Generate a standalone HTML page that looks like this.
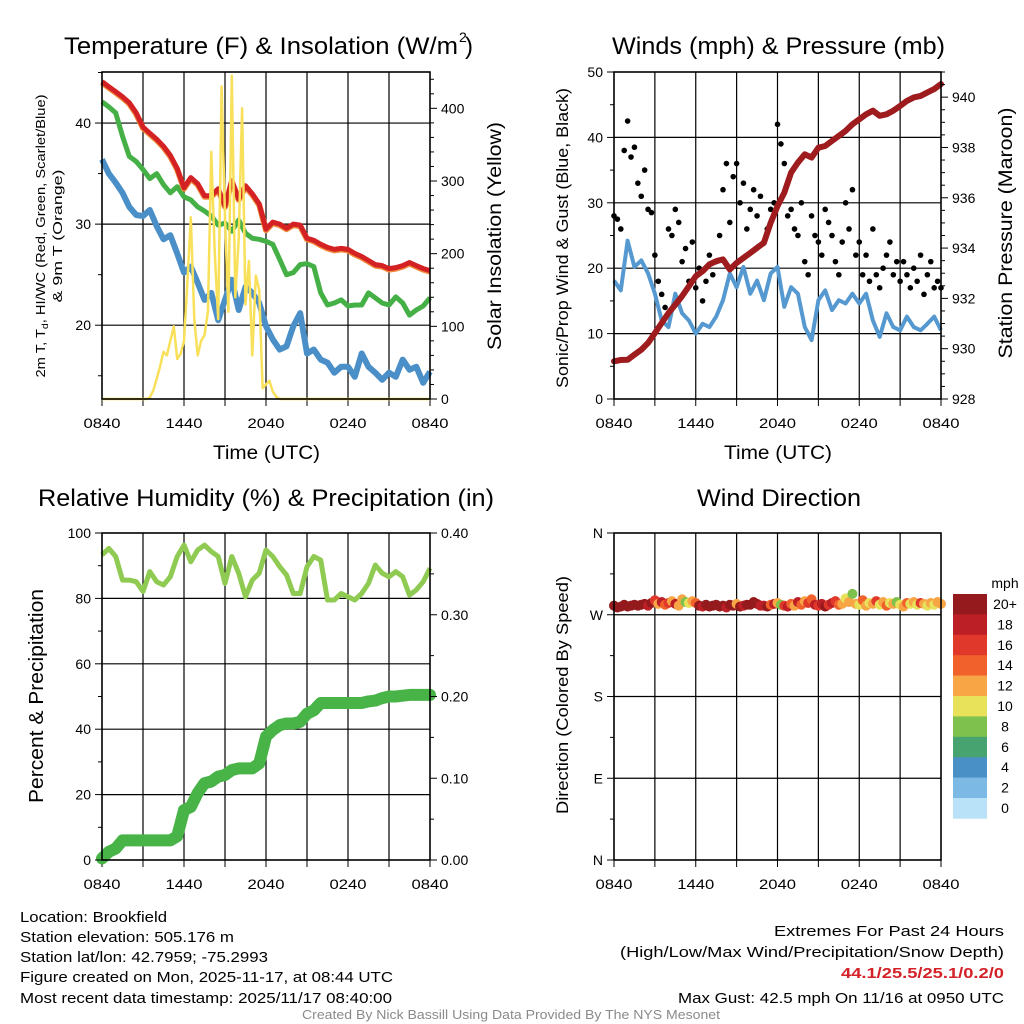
<!DOCTYPE html>
<html><head><meta charset="utf-8"><style>
html,body{margin:0;padding:0;background:#fff;}
svg{display:block;font-family:"Liberation Sans",sans-serif;}
</style></head><body>
<svg id="chart" width="1024" height="1024" viewBox="0 0 1024 1024" xmlns="http://www.w3.org/2000/svg">
<rect x="0" y="0" width="1024" height="1024" fill="#fff"/>
<g id="layer"></g>
<!-- titles -->
<text x="64" y="54" font-size="24" textLength="394" lengthAdjust="spacingAndGlyphs">Temperature (F) &amp; Insolation (W/m</text>
<text x="459" y="42" font-size="14">2</text>
<text x="465" y="54" font-size="24">)</text>
<text x="612" y="54" font-size="24" textLength="333" lengthAdjust="spacingAndGlyphs">Winds (mph) &amp; Pressure (mb)</text>
<text x="38" y="506" font-size="24" textLength="456" lengthAdjust="spacingAndGlyphs">Relative Humidity (%) &amp; Precipitation (in)</text>
<text x="697" y="506" font-size="24" textLength="164" lengthAdjust="spacingAndGlyphs">Wind Direction</text>
<!-- x titles -->
<text x="213" y="459" font-size="19" textLength="107" lengthAdjust="spacingAndGlyphs">Time (UTC)</text>
<text x="724" y="459" font-size="19" textLength="108" lengthAdjust="spacingAndGlyphs">Time (UTC)</text>
<!-- y titles -->
<text transform="translate(45,236) rotate(-90)" text-anchor="middle" font-size="13" textLength="283" lengthAdjust="spacingAndGlyphs">2m T, T<tspan font-size="9" dy="3">d</tspan><tspan dy="-3">, HI/WC (Red, Green, Scarlet/Blue)</tspan></text>
<text transform="translate(62,236) rotate(-90)" text-anchor="middle" font-size="13" textLength="133" lengthAdjust="spacingAndGlyphs">&amp; 9m T (Orange)</text>
<text transform="translate(501,236) rotate(-90)" text-anchor="middle" font-size="19" textLength="228" lengthAdjust="spacingAndGlyphs">Solar Insolation (Yellow)</text>
<text transform="translate(568,238) rotate(-90)" text-anchor="middle" font-size="17" textLength="300" lengthAdjust="spacingAndGlyphs">Sonic/Prop Wind &amp; Gust (Blue, Black)</text>
<text transform="translate(1012,233) rotate(-90)" text-anchor="middle" font-size="19" textLength="251" lengthAdjust="spacingAndGlyphs">Station Pressure (Maroon)</text>
<text transform="translate(43,696) rotate(-90)" text-anchor="middle" font-size="20" textLength="214" lengthAdjust="spacingAndGlyphs">Percent &amp; Precipitation</text>
<text transform="translate(568,695) rotate(-90)" text-anchor="middle" font-size="17" textLength="238" lengthAdjust="spacingAndGlyphs">Direction (Colored By Speed)</text>
<!-- footer -->
<g font-size="15">
<text x="20" y="922" textLength="147" lengthAdjust="spacingAndGlyphs">Location: Brookfield</text>
<text x="20" y="942" textLength="214" lengthAdjust="spacingAndGlyphs">Station elevation: 505.176 m</text>
<text x="20" y="962" textLength="248" lengthAdjust="spacingAndGlyphs">Station lat/lon: 42.7959; -75.2993</text>
<text x="20" y="982" textLength="373" lengthAdjust="spacingAndGlyphs">Figure created on Mon, 2025-11-17, at 08:44 UTC</text>
<text x="20" y="1003" textLength="372" lengthAdjust="spacingAndGlyphs">Most recent data timestamp: 2025/11/17 08:40:00</text>
</g>
<g font-size="15">
<text x="774" y="936" textLength="230" lengthAdjust="spacingAndGlyphs">Extremes For Past 24 Hours</text>
<text x="620" y="957" textLength="384" lengthAdjust="spacingAndGlyphs">(High/Low/Max Wind/Precipitation/Snow Depth)</text>
<text x="841" y="978" font-weight="bold" fill="#d42027" textLength="163" lengthAdjust="spacingAndGlyphs">44.1/25.5/25.1/0.2/0</text>
<text x="678" y="1003" textLength="326" lengthAdjust="spacingAndGlyphs">Max Gust: 42.5 mph On 11/16 at 0950 UTC</text>
</g>
<text x="302" y="1019" font-size="13" fill="#8a8a8a" textLength="418" lengthAdjust="spacingAndGlyphs">Created By Nick Bassill Using Data Provided By The NYS Mesonet</text>
</svg>
<script>
// ---------- data (half-hour steps from 0840 UTC) ----------
const xTickLabels = ["0840","1440","2040","0240","0840"];
const tempRed = [44.1,43.6,43.1,42.6,42.0,41.0,39.6,39.0,38.4,37.7,36.8,35.5,33.6,34.6,34.0,32.8,32.8,33.5,31.8,34.3,32.5,33.8,33.0,32.0,29.5,30.2,30.0,29.6,30.0,29.9,28.6,28.4,28.0,27.7,27.5,27.6,27.5,27.1,26.8,26.4,26.0,25.9,25.6,25.7,25.9,26.2,25.9,25.6,25.4];
const tempGreen = [42.1,41.6,41.0,38.7,36.7,36.2,35.4,34.5,35.0,33.9,33.1,33.7,32.7,32.4,31.7,31.3,30.8,29.9,30.1,29.3,30.4,29.1,28.6,28.5,28.3,28.0,26.5,25.0,25.2,26.0,26.1,25.8,23.2,22.0,22.2,22.5,21.9,22.0,22.0,23.2,22.7,22.2,22.0,22.8,22.2,21.0,21.5,21.9,22.7];
const tempBlue = [36.4,35.0,34.1,33.1,31.7,30.9,30.8,31.4,29.8,28.5,28.9,27.1,25.2,25.8,24.2,22.5,23.2,20.5,22.5,24.5,21.5,23.8,23.2,22.2,19.9,18.6,17.6,17.9,19.9,21.2,17.2,17.6,16.6,16.3,15.3,15.9,15.9,14.9,17.2,15.9,15.3,14.6,15.3,14.9,16.6,15.6,15.9,14.3,15.4];
// quarter-hour steps
const solar = [0,0,0,0,0,0,0,0,0,0,0,0,0,0,
 2,12,28,45,65,60,80,100,55,62,80,160,250,110,60,80,88,120,340,200,110,430,250,120,445,140,220,400,130,190,60,170,150,15,20,25,10,3,
 0,0,0,0,0,0,0,0,0,0,0,0,0,0,0,0,0,0,0,0,0,0,0,0,0,0,0,0,0,0,0,0,0,0,0,0,0,0,0,0,0,0,0,0,0];
const pressure = [929.50,929.55,929.56,929.76,929.96,930.23,930.62,931.02,931.42,931.75,932.09,932.48,932.88,933.08,933.35,933.48,933.55,933.15,933.41,933.61,933.81,934.01,934.21,935.01,935.67,936.20,937.00,937.40,937.73,937.60,937.99,938.06,938.26,938.46,938.66,938.92,939.12,939.32,939.46,939.26,939.32,939.46,939.65,939.85,939.99,940.05,940.19,940.32,940.52];
const windSpeed = [18.1,16.6,24.2,20.2,21.2,19.2,16.1,12.0,11.0,16.1,13.1,12.0,10.0,11.5,11.0,12.6,15.1,19.2,17.1,20.2,16.1,18.1,15.1,19.2,20.2,14.1,17.1,16.1,11.0,9.0,15.1,16.6,13.6,15.1,14.6,16.1,14.6,16.1,12.0,9.5,13.1,11.0,10.5,12.6,11.0,10.5,11.5,12.6,10.5];
const windGust = [28,27.5,26,38, 42.5,37,38.5,33, 31,35,29,28.5, 22,18,16,14, 26,25,29,27, 21,23,18,24, 17,20,15,18, 22,19,21,25, 32,36,27,34, 36,30,33,26, 29,32,28,31, 24,26,29,30, 42,39,36,28, 29,26,25,30, 21,19,28,25, 24,22,29,27, 25,21,19,24, 30,26,32,22, 24,19,22,18, 26,19,17,20, 22,24,19,21, 18,21,19,17, 20,18,22,16, 19,21,17,18, 17];
const rh = [93.3,95.3,92.8,85.6,85.6,85.1,82.1,88.2,85.1,84.1,86.6,92.8,96.3,91.2,94.8,96.3,94.3,92.8,84.6,92.8,87.7,80.5,85.6,87.7,94.8,92.8,89.7,87.2,81.5,81.5,89.7,92.8,91.7,79.5,79.5,81.5,80.5,79.5,81.5,84.6,90.2,87.7,86.6,88.2,86.6,81.0,82.6,85.1,89.2];
const precip = [0.002,0.010,0.014,0.024,0.024,0.024,0.024,0.024,0.024,0.024,0.024,0.029,0.061,0.065,0.082,0.094,0.096,0.102,0.104,0.110,0.112,0.112,0.112,0.118,0.151,0.159,0.165,0.167,0.167,0.169,0.179,0.183,0.192,0.192,0.192,0.192,0.192,0.192,0.192,0.194,0.195,0.198,0.200,0.200,0.201,0.202,0.202,0.202,0.202];
const windDir = [280,278,279,281, 279,280,281,280, 281,282,280,283, 286,282,284,281, 283,285,282,280, 287,284,283,285, 283,280,279,281, 279,280,281,279, 280,278,281,280, 282,279,280,281, 281,284,282,280, 280,279,281,282, 283,281,280,279, 282,280,284,281, 285,283,287,281, 280,282,279,281, 283,285,281,282, 288,284,293,282, 281,286,280,283, 282,285,281,284, 280,283,282,284, 281,279,283,282, 284,281,283,282, 280,283,281,284, 282];
const dirSpeed = [20,21,22,20, 21,22,21,20, 22,20,18,21, 16,12,18,14, 17,12,18,13, 12,8,10,12, 14,20,18,21, 20,22,21,20, 22,18,21,20, 12,20,18,20, 21,20,22,18, 18,20,14,18, 12,8,16,18, 14,12,18,14, 12,16,14,18, 16,18,20,17, 18,16,14,12, 10,12,8,12, 10,14,12,10, 12,16,10,12, 14,10,12,8, 10,12,14,10, 12,10,16,12, 10,12,10,12, 12];
const speedBins = ["0","2","4","6","8","10","12","14","16","18","20+"];
const speedColors = ["#b9e2f8","#7db9e5","#4990c6","#47a471","#7ec24d","#e8e25a","#f8a545","#f1612b","#e0392c","#bd1f26","#951a1d"];

// ---------- helpers ----------
const NS='http://www.w3.org/2000/svg';
const layer=document.getElementById('layer');
function mk(tag, attrs, name){
  const el=document.createElementNS(NS,tag);
  for(const k in attrs) el.setAttribute(k,attrs[k]);
  
  
  layer.appendChild(el);
  return el;
}
function lin(d0,d1,r0,r1){return v=>r0+(v-d0)/(d1-d0)*(r1-r0);}
function pathFrom(vals, step, xs, ys){
  return vals.map((v,i)=>(i?'L':'M')+xs(i*step).toFixed(1)+','+ys(v).toFixed(1)).join('');
}
function panel(p, name){
  // vertical grid every 3h
  for(let h=3;h<24;h+=3){
    mk('line',{x1:p.x(h),x2:p.x(h),y1:p.y0,y2:p.y1,stroke:'#000','stroke-width':1.2},name+'-vgrid');
  }
  // x ticks
  for(let h=0;h<=24;h+=3){
    mk('line',{x1:p.x(h),x2:p.x(h),y1:p.y1,y2:p.y1+7,stroke:'#000','stroke-width':1},name+'-xtick');
  }
  xTickLabels.forEach((t,i)=>{
    const el=mk('text',{x:p.x(i*6),y:p.y1+29,'font-size':14,'text-anchor':'middle',textLength:37,lengthAdjust:'spacingAndGlyphs'},name+'-xtick-label');
    el.textContent=t;
  });
}
function hgrid(p, vals, ys, name){
  vals.forEach(v=>mk('line',{x1:p.x0,x2:p.x1,y1:ys(v),y2:ys(v),stroke:'#000','stroke-width':1.2},name+'-hgrid'));
}
function yTicks(side, x, lo, hi, major, minor, ys, labelFn, name){
  const dir = side==='left'?-1:1;
  for(let v=lo; v<=hi+1e-9; v+=minor){
    const isMaj = Math.abs(v/major-Math.round(v/major))<1e-6;
    mk('line',{x1:x,x2:x+dir*(isMaj?7:4),y1:ys(v),y2:ys(v),stroke:'#000','stroke-width':1},name+'-tick');
    if(isMaj && labelFn){
      const el=mk('text',{x:x+dir*11,y:ys(v)+5,'font-size':14,'text-anchor':side==='left'?'end':'start'},name+'-tick-label');
      el.textContent=labelFn(v);
    }
  }
}
function frame(p,name){
  mk('rect',{x:p.x0,y:p.y0,width:p.x1-p.x0,height:p.y1-p.y0,fill:'none',stroke:'#000','stroke-width':1.6},name+'-frame');
}

// ---------- temperature panel ----------
const TL={x0:102,x1:430,y0:72,y1:399}; TL.x=lin(0,24,TL.x0,TL.x1);
const yT=lin(12.7,45.05,TL.y1,TL.y0), ySol=lin(0,450,TL.y1,TL.y0);
panel(TL,'temperature');
hgrid(TL,[20,30,40],yT,'temperature');
mk('path',{d:pathFrom(tempBlue,0.5,TL.x,yT),fill:'none',stroke:'#4a8fc7','stroke-width':6,'stroke-linejoin':'round'},'dewpoint-line');
mk('path',{d:pathFrom(tempGreen,0.5,TL.x,yT),fill:'none',stroke:'#45b045','stroke-width':5,'stroke-linejoin':'round'},'heat-index-line');
mk('path',{d:pathFrom(tempRed,0.5,TL.x,yT),fill:'none',stroke:'#f08a3a','stroke-width':6,'stroke-linejoin':'round',transform:'translate(0,1)'},'9m-temperature-line');
mk('path',{d:pathFrom(tempRed,0.5,TL.x,yT),fill:'none',stroke:'#d42224','stroke-width':5,'stroke-linejoin':'round'},'2m-temperature-line');
mk('path',{d:pathFrom(solar,0.25,TL.x,ySol),fill:'none',stroke:'#f9e05a','stroke-width':2.5,'stroke-linejoin':'round'},'insolation-line');
yTicks('left',TL.x0,15,45,10,5,yT,v=>String(v),'temperature-y');
yTicks('right',TL.x1,0,440,100,20,ySol,v=>String(v),'insolation-y');
frame(TL,'temperature');

// ---------- wind panel ----------
const TR={x0:614,x1:941,y0:72,y1:399}; TR.x=lin(0,24,TR.x0,TR.x1);
const yW=lin(0,50,TR.y1,TR.y0), yP=lin(928,941,TR.y1,TR.y0);
panel(TR,'wind');
hgrid(TR,[10,20,30,40],yW,'wind');
mk('path',{d:pathFrom(windSpeed,0.5,TR.x,yW),fill:'none',stroke:'#5599d0','stroke-width':4,'stroke-linejoin':'round'},'wind-speed-line');
windGust.forEach((g,i)=>{
  mk('circle',{cx:TR.x(i*0.25),cy:yW(g),r:2.8,fill:'#000'},'gust-point');
});
mk('path',{d:pathFrom(pressure,0.5,TR.x,yP),fill:'none',stroke:'#9e1b1e','stroke-width':6,'stroke-linejoin':'round','stroke-linecap':'round'},'pressure-line');
yTicks('left',TR.x0,0,50,10,5,yW,v=>String(v),'wind-y');
yTicks('right',TR.x1,928,941,2,0.5,yP,v=>String(Math.round(v)),'pressure-y');
frame(TR,'wind');

// ---------- humidity panel ----------
const BL={x0:102,x1:430,y0:533,y1:860}; BL.x=lin(0,24,BL.x0,BL.x1);
const yRH=lin(0,100,BL.y1,BL.y0), yPr=lin(0,0.4,BL.y1,BL.y0);
panel(BL,'humidity');
hgrid(BL,[20,40,60,80],yRH,'humidity');
mk('path',{d:pathFrom(rh,0.5,BL.x,yRH),fill:'none',stroke:'#8fcb52','stroke-width':5,'stroke-linejoin':'round'},'humidity-line');
mk('path',{d:pathFrom(precip,0.5,BL.x,yPr),fill:'none',stroke:'#48b448','stroke-width':12,'stroke-linejoin':'round','stroke-linecap':'round'},'precipitation-line');
yTicks('left',BL.x0,0,100,20,10,yRH,v=>String(v),'humidity-y');
yTicks('right',BL.x1,0,0.4,0.1,0.05,yPr,v=>v.toFixed(2),'precip-y');
frame(BL,'humidity');

// ---------- direction panel ----------
const BR={x0:614,x1:941,y0:533,y1:860}; BR.x=lin(0,24,BR.x0,BR.x1);
const yD=lin(0,360,BR.y1,BR.y0);
panel(BR,'direction');
hgrid(BR,[90,180,270],yD,'direction');
const dirLabels={0:'N',90:'E',180:'S',270:'W',360:'N'};
yTicks('left',BR.x0,0,360,90,45,yD,v=>dirLabels[Math.round(v)],'direction-y');
function binColor(s){let b=Math.min(10,Math.floor(s/2));return speedColors[b];}
windDir.forEach((d,i)=>{
  mk('circle',{cx:BR.x(i*0.25),cy:yD(d),r:5,fill:binColor(dirSpeed[i])},'direction-point');
});
frame(BR,'direction');
// colorbar
const cbTop=594, cbH=20.4;
{const t=mk('text',{x:1005,y:588,'font-size':14,'text-anchor':'middle'},'colorbar-unit'); t.textContent='mph';}
for(let k=10;k>=0;k--){
  const yy=cbTop+(10-k)*cbH;
  mk('rect',{x:953,y:yy,width:34,height:cbH+0.3,fill:speedColors[k]},'colorbar-swatch');
  const t=mk('text',{x:1005,y:yy+15,'font-size':14,'text-anchor':'middle'},'colorbar-label');
  t.textContent=speedBins[k];
}
</script>
</body></html>
